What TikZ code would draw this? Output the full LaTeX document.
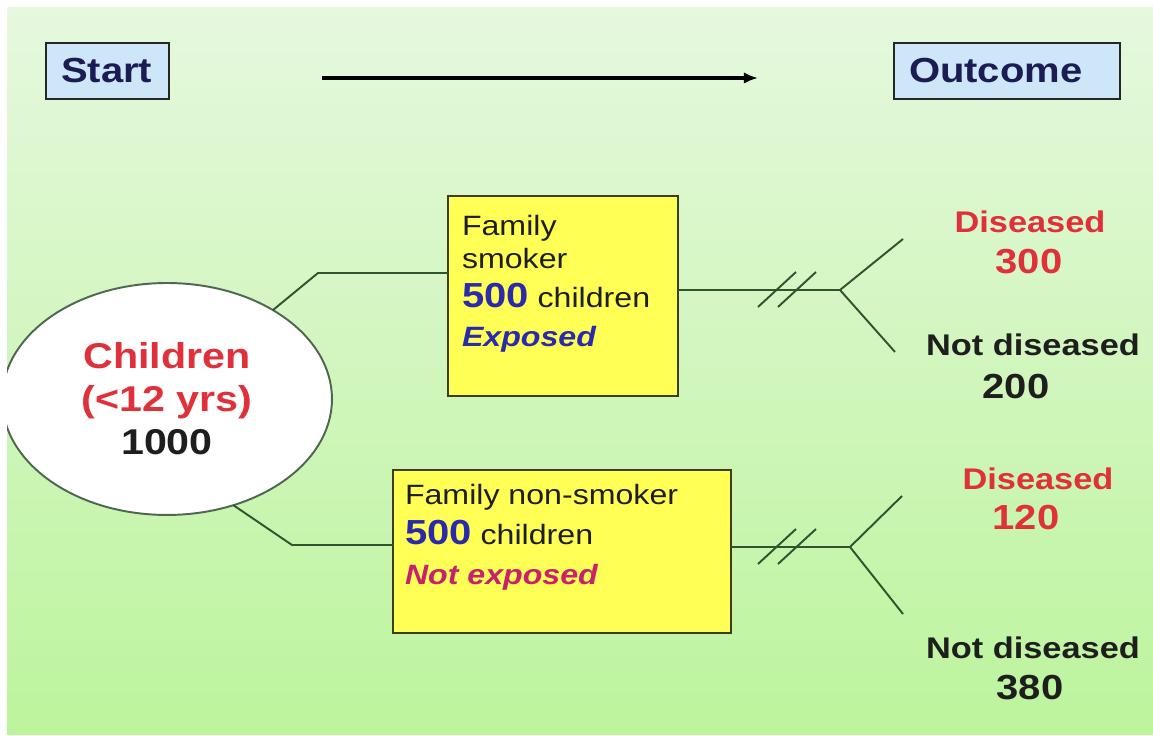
\documentclass[tikz,border=0pt]{standalone}
\usepackage{fontspec}
\setmainfont[FakeStretch=1.15]{Liberation Sans}
\usepackage{tikz}
\usetikzlibrary{shapes.geometric,arrows.meta}

\definecolor{bgtop}{HTML}{E6F8DE}
\definecolor{bgbot}{HTML}{BCF49C}
\definecolor{navy}{HTML}{1C1C55}
\definecolor{skyfill}{HTML}{CDE7F8}
\definecolor{boxyel}{HTML}{FFFF55}
\definecolor{olive}{HTML}{3E3E1E}
\definecolor{linegreen}{HTML}{2E5530}
\definecolor{dred}{HTML}{E0303A}
\definecolor{dblue}{HTML}{2A2AAA}
\definecolor{dmag}{HTML}{C8206E}
\definecolor{ink}{HTML}{1E1E1E}

\begin{document}
\begin{tikzpicture}[x=0.02cm,y=0.02cm,
  every node/.style={inner sep=0pt,outer sep=0pt},
  tagbox/.style={draw=gray!30!black,line width=1.1pt,fill=skyfill,minimum height=1.12cm,
    inner xsep=0.3cm,align=left,text=navy,font=\fontsize{19.8}{22}\selectfont\bfseries},
  yelbox/.style={draw=olive,line width=1.3pt,fill=boxyel},
  boxtext/.style={anchor=north west,align=left,text=ink,font=\fontsize{15.9}{22.4}\selectfont},
  branch/.style={draw=linegreen,line width=1.1pt},
  lab/.style={font=\fontsize{17}{20}\selectfont\bfseries},
  num/.style={font=\fontsize{19.8}{22}\selectfont\bfseries}]

\fill[white] (0,0) rectangle (1153,736);
\shade[top color=bgtop,bottom color=bgbot] (7,1) rectangle (1153,728);
\useasboundingbox (0,0) rectangle (1153,736);

\node[tagbox,minimum width=2.46cm,text width=1.86cm] (start) at (107.5,665) {Start};
\node[tagbox,minimum width=4.52cm,text width=3.92cm] (outc) at (1007,665) {Outcome};

\coordinate (arrS) at (322,658);
\coordinate (arrE) at (758,658);
\draw[line width=2pt,-{Latex[length=8pt,width=6.5pt]}] (arrS) -- (arrE);

\node[ellipse,draw=gray!40!linegreen,line width=1.1pt,fill=white,minimum width=6.6cm,minimum height=4.64cm,
  align=center,font=\fontsize{20.4}{24.4}\selectfont\bfseries] (kids) at (167,337)
  {\textcolor{dred}{Children}\\\textcolor{dred}{(<12 yrs)}\\\textcolor{ink}{1000}};
\fill[white] (0,0) rectangle (7,736);

\node[yelbox,minimum width=4.6cm,minimum height=4cm] (smk) at (563,440) {};
\node[boxtext] (smktxt) at (462,521) {Family\\[-3.7pt]smoker\\{\color{dblue}\fontsize{19.8}{22.4}\selectfont\bfseries 500} children\\{\color{dblue}\bfseries\itshape Exposed}};

\node[yelbox,minimum width=6.76cm,minimum height=3.26cm] (nsmk) at (562,184.5) {};
\node[boxtext,font=\fontsize{15.9}{22.7}\selectfont] (nsmktxt) at (405,251.4) {Family non-smoker\\{\color{dblue}\fontsize{19.8}{22.7}\selectfont\bfseries 500} children\\{\color{dmag}\bfseries\itshape Not exposed}};

\coordinate (bendA) at (318,463);
\coordinate (bendB) at (292,191);
\draw[branch] (kids.40) -- (bendA) -- (bendA -| smk.west);
\draw[branch] (kids.-58) -- (bendB) -- (bendB -| nsmk.west);

\coordinate (fk1) at (840,446);
\coordinate (up1) at (903,497);
\coordinate (dn1) at (895,384);
\draw[branch] (smk.east |- fk1) -- (fk1) -- (up1);
\draw[branch] (fk1) -- (dn1);
\foreach \hx in {777,797}
\draw[branch] (\hx-19,429) -- (\hx+19,464);

\coordinate (fk2) at (850,189);
\coordinate (up2) at (902,240);
\coordinate (dn2) at (903,122);
\draw[branch] (nsmk.east |- fk2) -- (fk2) -- (up2);
\draw[branch] (fk2) -- (dn2);
\foreach \hx in {777,797}
\draw[branch] (\hx-19,172) -- (\hx+19,207);

\node[lab,text=dred] (dis1) at (1030,514) {Diseased};
\node[num,text=dred] (dis1n) at (1029,474) {300};
\node[lab,text=ink] (ndis1) at (1033,391) {Not diseased};
\node[num,text=ink] (ndis1n) at (1016,349) {200};

\node[lab,text=dred] (dis2) at (1038,257) {Diseased};
\node[num,text=dred] (dis2n) at (1026,218) {120};
\node[lab,text=ink] (ndis2) at (1033,88) {Not diseased};
\node[num,text=ink] (ndis2n) at (1030,48) {380};

\end{tikzpicture}
\end{document}
